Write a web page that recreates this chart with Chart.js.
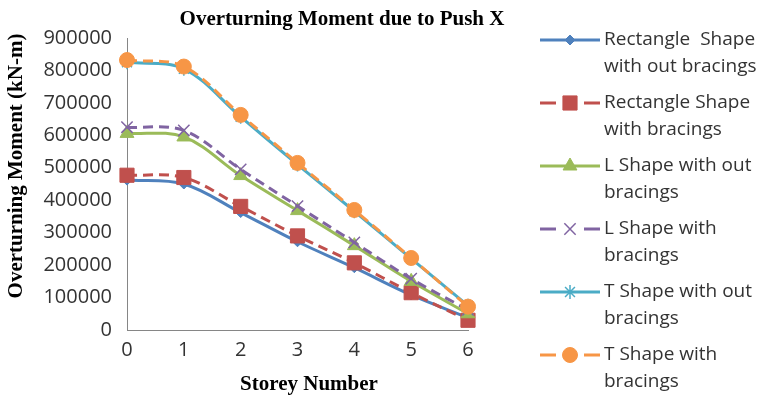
<!DOCTYPE html>
<html>
<head>
<meta charset="utf-8">
<script src="https://cdn.jsdelivr.net/npm/chart.js@4.4.1/dist/chart.umd.min.js"></script>
<style>
  body { margin: 0; background: #fff; }
  #wrap { width: 762px; height: 401px; }
</style>
</head>
<body>
<div id="wrap"><canvas id="chart" width="762" height="401"></canvas></div>
<script>
// 층 번호
const storeys = ['0', '1', '2', '3', '4', '5', '6'];
const yTicks = [0, 100000, 200000, 300000, 400000, 500000, 600000, 700000, 800000, 900000];

// values (kN-m)
const rectNoBrace = [462000, 450000, 362000, 272000, 192000, 108000, 38000];
const rectBrace   = [477000, 470000, 381000, 290000, 207000, 115000, 30000];
const lNoBrace    = [606000, 595000, 476000, 368000, 260000, 150000, 50000];
const lBrace      = [625000, 615000, 495000, 382000, 270000, 158000, 62000];
const tNoBrace    = [825000, 805000, 657000, 510000, 366000, 220000, 75000];
const tBrace      = [832000, 812000, 663000, 515000, 370000, 222000, 72000];

const seriesNames = [
  ['Rectangle  Shape', 'with out bracings'],
  ['Rectangle Shape', 'with bracings'],
  ['L Shape with out', 'bracings'],
  ['L Shape with', 'bracings'],
  ['T Shape with out', 'bracings'],
  ['T Shape with', 'bracings']
];

const serifBold = 'bold 21px "Liberation Serif", "Times New Roman", serif';
const sansFont = '"Open Sans", "Noto Sans", sans-serif';

function makeSet(i, data, color, dash, style, radius) {
  return {
    label: seriesNames[i].join(' '),
    data: data,
    borderColor: color,
    backgroundColor: color,
    borderWidth: 3,
    borderDash: dash,
    tension: 0.35,
    pointStyle: style,
    pointRadius: radius,
    pointHoverRadius: radius,
    pointBackgroundColor: color,
    pointBorderColor: color,
    pointBorderWidth: (style === 'crossRot' || style === 'star') ? 1.5 : 1,
    order: 6 - i
  };
}

const datasets = [
  makeSet(0, rectNoBrace, '#4F81BD', [], 'rectRot', 5),
  makeSet(1, rectBrace, '#C0504D', [10, 6], 'rect', 10),
  makeSet(2, lNoBrace, '#9BBB59', [], 'triangle', 8),
  makeSet(3, lBrace, '#8064A2', [10, 6], 'crossRot', 8),
  makeSet(4, tNoBrace, '#4BACC6', [], 'star', 7),
  makeSet(5, tBrace, '#F79646', [10, 6], 'circle', 7.5)
];

// titles and legend drawn by hand
const decor = {
  id: 'decor',
  afterDraw(chart) {
    const ctx = chart.ctx;
    ctx.save();
    ctx.fillStyle = '#000';
    ctx.font = serifBold;
    ctx.textAlign = 'center';
    ctx.textBaseline = 'middle';
    ctx.fillText('Overturning Moment due to Push X', 342, 20);
    ctx.fillText('Storey Number', 309, 385);
    ctx.translate(17, 166);
    ctx.rotate(-Math.PI / 2);
    ctx.fillText('Overturning Moment (kN-m)', 0, 0);
    ctx.restore();

    // legend
    datasets.forEach((ds, i) => {
      const y = 40 + 63 * i;
      ctx.save();
      ctx.strokeStyle = ds.borderColor;
      ctx.lineWidth = 3;
      ctx.beginPath();
      if (ds.borderDash.length) {
        ctx.moveTo(540, y); ctx.lineTo(556, y);
        ctx.moveTo(584, y); ctx.lineTo(600, y);
      } else {
        ctx.moveTo(540, y); ctx.lineTo(600, y);
      }
      ctx.stroke();
      ctx.fillStyle = ds.pointBackgroundColor;
      ctx.lineWidth = ds.pointBorderWidth;
      Chart.helpers.drawPoint(ctx, {
        pointStyle: ds.pointStyle,
        radius: ds.pointRadius,
        rotation: 0,
        borderWidth: ds.pointBorderWidth
      }, 570, y);
      ctx.fillStyle = '#333';
      ctx.font = '19px ' + sansFont;
      ctx.textAlign = 'left';
      ctx.textBaseline = 'middle';
      ctx.fillText(seriesNames[i][0], 604, y);
      ctx.fillText(seriesNames[i][1], 604, y + 27);
      ctx.restore();
    });
  }
};

new Chart(document.getElementById('chart'), {
  type: 'line',
  data: { labels: storeys, datasets: datasets },
  options: {
    responsive: false,
    animation: false,
    layout: { padding: { top: 38, right: 294, bottom: 0, left: 0 } },
    plugins: { legend: { display: false }, tooltip: { enabled: false } },
    scales: {
      x: {
        offset: false,
        grid: { display: false, drawTicks: false, tickLength: 0 },
        border: { display: true, color: '#868686', width: 1 },
        ticks: { color: '#333', font: { size: 20, family: sansFont }, padding: 8, maxRotation: 0 },
        afterFit(scale) { scale.height = 71; }
      },
      y: {
        min: 0,
        max: 900000,
        afterBuildTicks(scale) { scale.ticks = yTicks.map(v => ({ value: v })); },
        grid: { display: false, drawTicks: false, tickLength: 0 },
        border: { display: true, color: '#868686', width: 1 },
        ticks: { color: '#333', font: { size: 20, family: sansFont }, padding: 15, callback: v => String(v) },
        afterFit(scale) { scale.width = 127; }
      }
    }
  },
  plugins: [decor]
});
</script>
</body>
</html>
